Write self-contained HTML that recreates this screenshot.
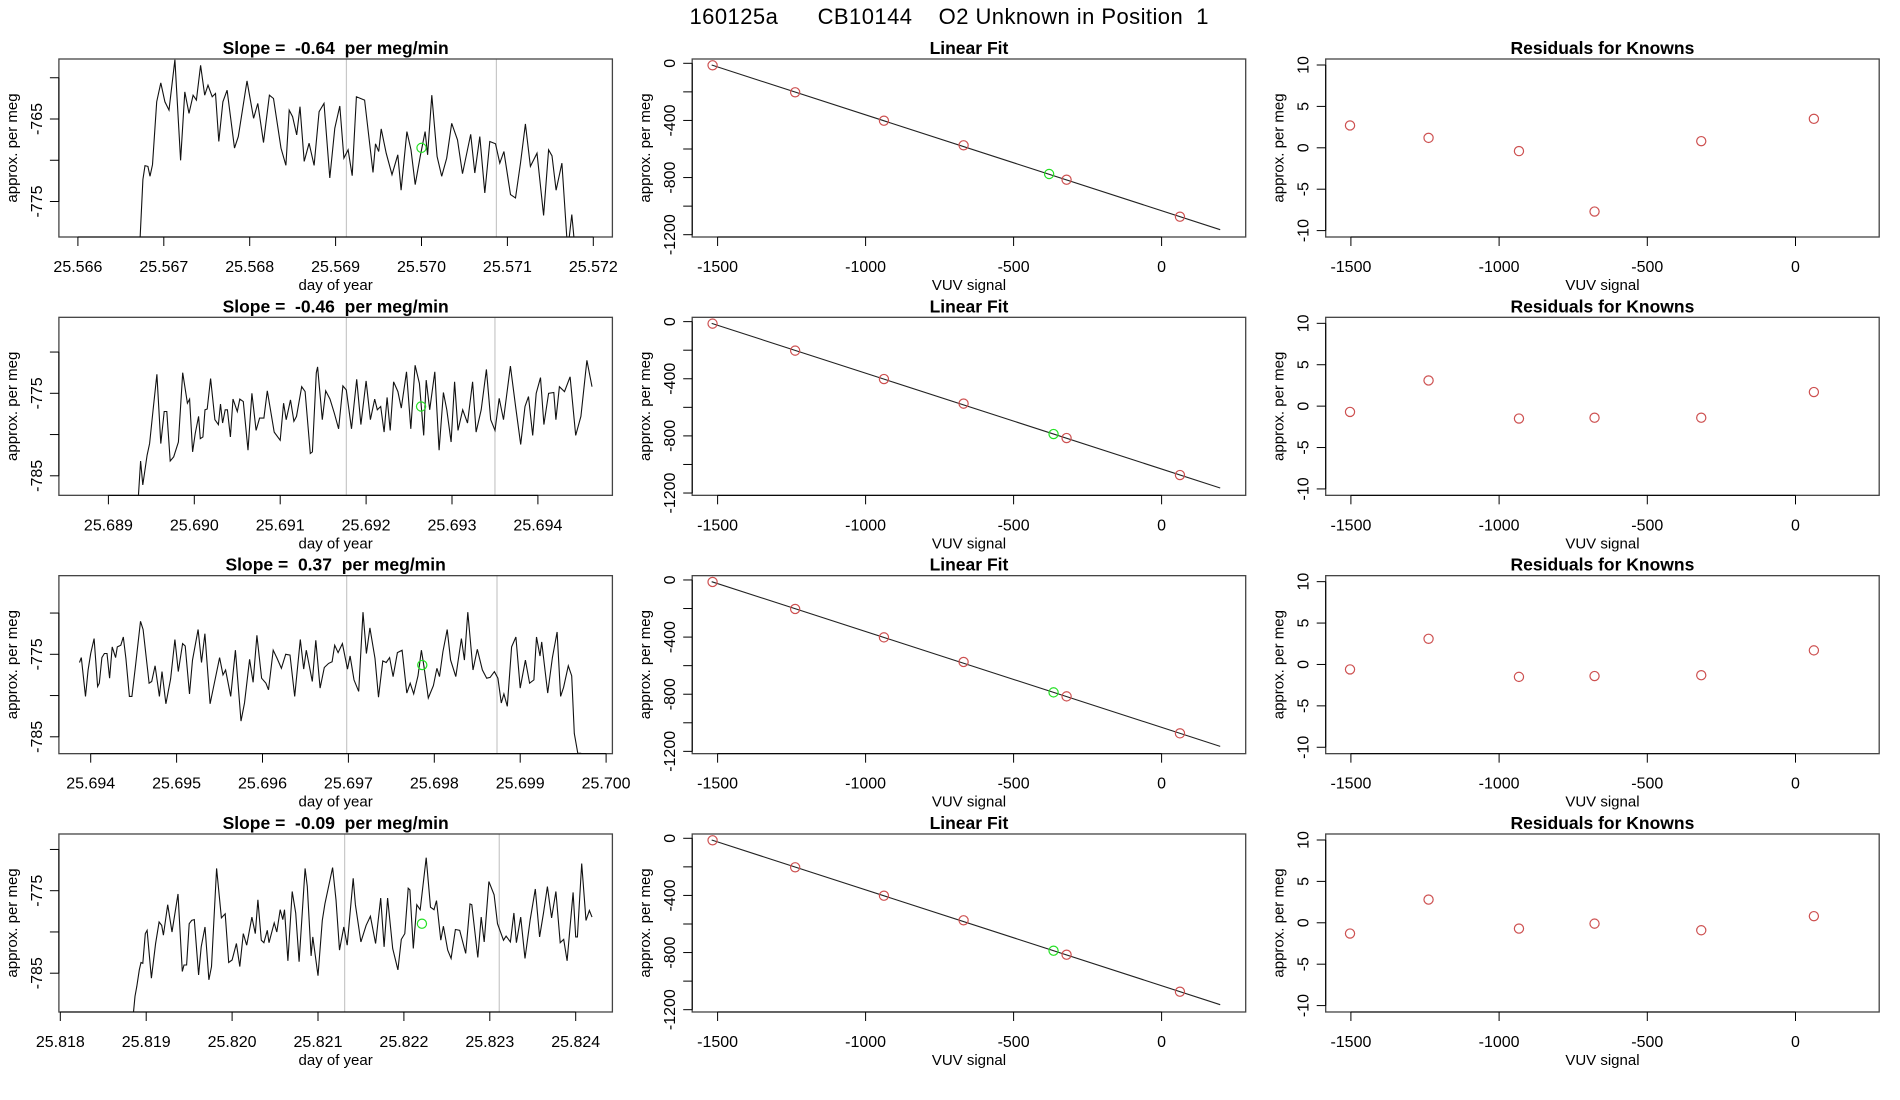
<!DOCTYPE html>
<html><head><meta charset="utf-8"><style>
html,body{margin:0;padding:0;background:#fff;}
svg{display:block;font-family:"Liberation Sans",Arial,sans-serif;}
svg text{white-space:pre;}
</style></head><body>
<svg id="chart" xmlns="http://www.w3.org/2000/svg" width="1900" height="1100" viewBox="0 0 1900 1100">
<rect x="0" y="0" width="1900" height="1100" fill="#fff"/>
<text x="949" y="24" font-size="22" text-anchor="middle" xml:space="preserve" textLength="519">160125a      CB10144    O2 Unknown in Position  1</text>
</svg>
<script>
// ---------- data ----------
const slopes = ["-0.64", "-0.46", "0.37", "-0.09"];
const dayBase = [25.566, 25.689, 25.694, 25.818];
const dayTickLabels = [
  ["25.566","25.567","25.568","25.569","25.570","25.571","25.572"],
  ["25.689","25.690","25.691","25.692","25.693","25.694"],
  ["25.694","25.695","25.696","25.697","25.698","25.699","25.700"],
  ["25.818","25.819","25.820","25.821","25.822","25.823","25.824"]
];
// offsets in thousandths of a day from dayBase
const tOff1 = [0.699,0.757,0.781,0.815,0.839,0.868,0.917,0.965,1.013,1.061,1.129,1.196,1.245,1.293,1.341,1.380,1.428,1.476,1.515,1.563,1.602,1.640,1.688,1.737,1.823,1.867,1.968,2.045,2.094,2.161,2.229,2.277,2.364,2.422,2.460,2.499,2.547,2.586,2.634,2.692,2.750,2.808,2.865,2.933,2.991,3.049,3.097,3.145,3.193,3.242,3.338,3.435,3.464,3.502,3.531,3.589,3.657,3.724,3.763,3.830,3.878,3.927,3.985,4.042,4.071,4.120,4.182,4.235,4.293,4.351,4.419,4.477,4.573,4.621,4.679,4.737,4.795,4.862,4.911,4.959,5.036,5.094,5.152,5.210,5.268,5.345,5.422,5.480,5.519,5.567,5.634,5.702,5.750,5.789];
const val1 = [-785,-772.35,-770.66,-770.74,-771.95,-770.54,-762.91,-760.62,-762.91,-763.92,-757.81,-770.02,-761.71,-764.32,-762.11,-762.71,-758.49,-762.11,-760.90,-762.31,-761.91,-767.73,-762.91,-761.51,-768.53,-767.13,-760.38,-764.92,-763.11,-767.85,-762.11,-762.51,-768.53,-770.62,-763.92,-764.72,-766.93,-763.51,-770.14,-767.93,-770.62,-764.12,-763.11,-772.15,-766.12,-763.43,-769.74,-768.73,-771.87,-762.31,-762.71,-771.47,-768.01,-768.94,-766.20,-769.14,-771.75,-769.34,-773.63,-766.53,-768.73,-772.95,-769.54,-766.53,-769.34,-762.11,-769.54,-771.95,-769.74,-765.52,-767.53,-771.63,-766.85,-771.55,-767.13,-773.96,-767.73,-768.01,-770.34,-768.94,-774.16,-774.56,-770.34,-765.60,-770.74,-769.14,-776.69,-768.73,-769.46,-773.63,-770.34,-781,-776.57,-781];
const tOff2 = [0.34,0.375,0.40,0.45,0.48,0.52,0.565,0.61,0.65,0.68,0.72,0.76,0.815,0.865,0.92,0.945,0.98,1.01,1.05,1.07,1.10,1.125,1.15,1.19,1.24,1.28,1.305,1.33,1.36,1.385,1.42,1.45,1.50,1.53,1.57,1.625,1.67,1.72,1.76,1.81,1.85,1.93,2.00,2.04,2.07,2.12,2.16,2.19,2.25,2.29,2.35,2.375,2.42,2.435,2.49,2.53,2.58,2.63,2.68,2.73,2.77,2.83,2.89,2.94,3.00,3.05,3.10,3.13,3.17,3.21,3.245,3.28,3.32,3.37,3.41,3.47,3.52,3.57,3.62,3.67,3.70,3.74,3.80,3.85,3.90,3.94,3.99,4.03,4.07,4.125,4.18,4.24,4.28,4.34,4.40,4.45,4.50,4.55,4.60,4.68,4.74,4.80,4.85,4.89,4.94,4.98,5.03,5.07,5.125,5.185,5.21,5.25,5.31,5.375,5.44,5.50,5.57,5.63];
const val2 = [-789,-783.2,-786.1,-782.5,-781.1,-777.0,-772.7,-781.1,-777.2,-777.2,-783.2,-782.7,-780.9,-772.5,-776.2,-775.7,-782.1,-779.9,-777.8,-780.5,-780.3,-777.0,-776.9,-773.2,-778.2,-778.8,-776.3,-778.6,-777.0,-777.0,-780.3,-775.7,-777.2,-775.7,-776.0,-781.9,-775.0,-779.5,-778.0,-778.0,-774.7,-779.7,-780.7,-776.2,-778.2,-775.8,-778.4,-777.8,-774.2,-774.8,-782.3,-782.1,-772.5,-771.8,-778.2,-774.7,-775.7,-777.4,-779.3,-774.1,-774.6,-779.3,-773.3,-778.8,-773.5,-778.2,-775.7,-777.0,-776.6,-779.7,-775.5,-779.5,-773.6,-774.8,-776.8,-772.4,-779.3,-771.6,-773.8,-780.1,-773.4,-777.0,-772.4,-781.9,-774.9,-777.0,-780.9,-773.6,-779.5,-777.0,-778.6,-773.6,-779.7,-777.0,-772.1,-778.2,-779.5,-775.6,-778.2,-771.7,-776.6,-781.2,-776.6,-775.4,-780.1,-775.0,-773.1,-778.8,-775.0,-774.9,-778.2,-774.2,-774.8,-773.0,-780.1,-777.8,-771.0,-774.2];
const tOff3 = [-0.13,-0.11,-0.06,-0.03,0.00,0.04,0.08,0.10,0.13,0.16,0.19,0.22,0.25,0.29,0.31,0.35,0.38,0.41,0.45,0.48,0.52,0.58,0.61,0.68,0.71,0.75,0.80,0.83,0.875,0.93,0.98,1.02,1.07,1.10,1.15,1.185,1.25,1.29,1.33,1.39,1.435,1.50,1.54,1.57,1.63,1.685,1.75,1.79,1.85,1.89,1.935,1.99,2.04,2.07,2.125,2.17,2.22,2.27,2.32,2.375,2.44,2.48,2.51,2.58,2.62,2.67,2.72,2.77,2.81,2.84,2.88,2.93,2.99,3.02,3.065,3.12,3.17,3.21,3.25,3.31,3.35,3.40,3.44,3.48,3.52,3.57,3.625,3.68,3.72,3.76,3.81,3.85,3.88,3.93,3.99,4.03,4.06,4.10,4.15,4.19,4.25,4.315,4.35,4.39,4.45,4.50,4.56,4.61,4.65,4.70,4.74,4.78,4.81,4.85,4.90,4.95,5.00,5.06,5.11,5.16,5.19,5.23,5.25,5.32,5.375,5.43,5.47,5.505,5.56,5.60,5.63,5.67,5.71];
const val3 = [-776.0,-775.4,-780.1,-776.9,-774.9,-773.1,-778.9,-778.5,-775.4,-774.9,-774.9,-777.9,-774.1,-775.4,-774.1,-773.9,-772.9,-775.5,-780.1,-780.1,-776.5,-771.0,-772.0,-778.5,-778.3,-776.4,-780.1,-777.1,-781.0,-778.0,-773.2,-777.1,-773.7,-774.0,-779.8,-775.7,-772.0,-776.0,-772.5,-781.0,-778.7,-775.4,-777.5,-776.9,-780.1,-774.5,-783.1,-780.9,-775.6,-778.4,-772.7,-777.9,-778.5,-779.3,-774.5,-775.5,-776.7,-775.0,-775.1,-780.1,-773.2,-776.8,-774.5,-778.3,-773.3,-779.1,-776.6,-776.1,-775.9,-773.9,-774.8,-773.7,-776.8,-775.2,-778.1,-779.5,-769.9,-774.9,-771.8,-775.5,-780.2,-775.8,-776.0,-775.4,-777.7,-774.8,-774.5,-779.7,-778.5,-779.8,-777.6,-774.5,-776.5,-780.3,-778.8,-776.7,-777.7,-774.7,-772.0,-775.7,-777.7,-773.1,-775.7,-769.9,-776.9,-774.4,-776.9,-777.9,-777.8,-777.1,-777.9,-780.9,-779.8,-781.3,-774.1,-772.9,-779.1,-775.7,-778.5,-778.1,-772.9,-775.2,-773.5,-779.7,-775.4,-772.3,-780.1,-779.0,-776.4,-777.6,-784.6,-787.0,-787.0];
const tOff4 = [0.84,0.87,0.89,0.92,0.94,0.96,0.99,1.01,1.06,1.11,1.15,1.18,1.20,1.25,1.30,1.37,1.42,1.44,1.47,1.50,1.53,1.56,1.61,1.64,1.685,1.73,1.76,1.82,1.875,1.92,1.96,2.00,2.05,2.09,2.13,2.17,2.23,2.27,2.30,2.34,2.37,2.41,2.43,2.49,2.52,2.56,2.59,2.61,2.65,2.70,2.74,2.78,2.85,2.875,2.92,2.94,3.00,3.05,3.08,3.17,3.21,3.25,3.30,3.34,3.41,3.435,3.50,3.56,3.61,3.67,3.73,3.77,3.81,3.87,3.93,3.97,4.01,4.05,4.07,4.11,4.15,4.19,4.26,4.31,4.35,4.38,4.43,4.46,4.51,4.55,4.60,4.65,4.72,4.77,4.79,4.86,4.90,4.935,4.99,5.05,5.09,5.16,5.19,5.24,5.28,5.31,5.36,5.41,5.47,5.53,5.58,5.625,5.67,5.72,5.77,5.82,5.86,5.90,5.97,6.00,6.02,6.07,6.12,6.16,6.19];
const val4 = [-791,-787.8,-786.6,-784.6,-783.7,-783.8,-780.2,-779.8,-785.6,-781.4,-778.8,-779.2,-780.4,-776.7,-780.0,-775.4,-784.8,-784.0,-784.0,-779.0,-778.6,-778.5,-785.2,-781.8,-779.4,-785.8,-784.2,-772.3,-778.3,-777.8,-783.7,-783.4,-781.4,-784.2,-780.2,-781.6,-778.2,-780.2,-776.1,-781.0,-781.3,-779.8,-781.3,-778.9,-780.0,-777.3,-778.5,-777.3,-783.5,-775.1,-777.7,-783.6,-772.3,-774.5,-782.9,-780.6,-785.3,-778.6,-776.6,-772.2,-776.1,-782.2,-779.4,-781.6,-773.5,-776.7,-781.2,-779.2,-778.1,-781.4,-775.9,-781.8,-775.9,-782.0,-784.6,-780.9,-780.2,-774.7,-774.9,-782.0,-776.7,-777.3,-771.0,-777.0,-777.3,-776.2,-781.0,-779.3,-782.2,-783.2,-779.7,-779.8,-782.6,-776.6,-776.7,-783.1,-778.2,-781.2,-773.9,-775.5,-779.0,-781.0,-780.5,-781.2,-777.7,-781.3,-778.2,-783.2,-778.5,-774.8,-780.6,-777.7,-774.5,-778.3,-775.1,-781.3,-780.9,-783.5,-775.2,-780.6,-780.6,-771.7,-778.6,-777.4,-778.2];
const tOffs = [tOff1, tOff2, tOff3, tOff4];
const vals = [val1, val2, val3, val4];
const greenDay = [25.570, 25.69264, 25.69786, 25.82221];
const greenVal = [-768.5, -776.6, -776.3, -779.0];
const vLine1 = [25.569126, 25.69177, 25.69698, 25.82131];
const vLine2 = [25.570872, 25.69350, 25.69873, 25.82311];
const yTickVals = [[-760,-765,-770,-775],[-770,-775,-780,-785],[-770,-775,-780,-785],[-770,-775,-780,-785]];
const yTickLabels = [["","-765","","-775"],["","-775","","-785"],["","-775","","-785"],["","-775","","-785"]];
const yRef = [-765, -775, -775, -775];

// linear fit data
const knownX = [-1517, -1238, -938, -669, -321, 62];
const knownY = [-14, -203, -402, -574, -815, -1074];
const unkX = [-380, -365, -365, -365];
const unkY = [-775, -787, -787, -787];
const fitSlope = -0.671;
const fitIntercept = -1032;
const fitRange = [-1520, 198];
const fitXTicks = [-1500, -1000, -500, 0];
const fitYTicks = [0, -200, -400, -600, -800, -1000, -1200];
const fitYLabels = ["0", "", "-400", "", "-800", "", "-1200"];

// residuals
const residX = [-1503, -1238, -933, -678, -318, 62];
const resid = [
  [2.7, 1.2, -0.4, -7.7, 0.8, 3.5],
  [-0.7, 3.1, -1.5, -1.4, -1.4, 1.7],
  [-0.6, 3.1, -1.5, -1.4, -1.3, 1.7],
  [-1.3, 2.8, -0.7, -0.1, -0.9, 0.8]
];
const residYTicks = [10, 5, 0, -5, -10];

// ---------- layout ----------
const NS = "http://www.w3.org/2000/svg";
const svg = document.getElementById("chart");
const colLeft = [58.9, 692.2, 1325.7];
const boxW = 553.5;
const rowStep = 258.33;
const boxTop0 = 59, boxBot0 = 237;

function mk(tag, attrs, parent, text) {
  const e = document.createElementNS(NS, tag);
  for (const k in attrs) e.setAttribute(k, attrs[k]);
  if (text !== undefined) e.textContent = text;
  (parent || svg).appendChild(e);
  return e;
}

function frame(g, L, T, B, title, xlab) {
  const r = mk("rect", {x: L, y: T, width: boxW, height: B - T, fill: "none", stroke: "#444", "stroke-width": 1.3}, g);
  
  
  const t = mk("text", {x: L + boxW / 2, y: T - 5, "font-size": 17.5, "font-weight": "bold", "text-anchor": "middle", style: "white-space:pre"}, g, title);
  
  
  const xl = mk("text", {x: L + boxW / 2, y: B + 53, "font-size": 15, "text-anchor": "middle"}, g, xlab);
  
  
  const yl = mk("text", {x: 0, y: 0, "font-size": 15, "text-anchor": "middle", transform: `translate(${L - 42},${(T + B) / 2}) rotate(-90)`}, g, "approx. per meg");
  
  
}

function xAxis(g, B, pxs, labels) {
  const ax = mk("g", {}, g);
  
  
  mk("line", {x1: pxs[0], x2: pxs[pxs.length - 1], y1: B, y2: B, stroke: "#000", "stroke-width": 1}, ax);
  pxs.forEach((p, i) => {
    mk("line", {x1: p, x2: p, y1: B, y2: B + 9, stroke: "#000", "stroke-width": 1}, ax);
    const t = mk("text", {x: p, y: B + 35, "font-size": 16, "text-anchor": "middle"}, ax, labels[i]);
    
    
  });
}

function yAxis(g, L, pys, labels) {
  const ax = mk("g", {}, g);
  
  
  const ymin = Math.min(...pys), ymax = Math.max(...pys);
  mk("line", {x1: L, x2: L, y1: ymin, y2: ymax, stroke: "#000", "stroke-width": 1}, ax);
  pys.forEach((p, i) => {
    mk("line", {x1: L, x2: L - 9, y1: p, y2: p, stroke: "#000", "stroke-width": 1}, ax);
    if (labels[i] !== "") {
      const t = mk("text", {x: 0, y: 0, "font-size": 16, "text-anchor": "middle", transform: `translate(${L - 17},${p}) rotate(-90)`}, ax, labels[i]);
      
      
    }
  });
}

function circle(g, x, y, color, name) {
  const c = mk("circle", {cx: x, cy: y, r: 4.6, fill: "none", stroke: color, "stroke-width": 1.2}, g);
  
  
}

const defs = mk("defs", {});
for (let r = 0; r < 4; r++) {
  const T = boxTop0 + r * rowStep, B = boxBot0 + r * rowStep;
  const cp = mk("clipPath", {id: "clip" + r}, defs);
  mk("rect", {x: colLeft[0], y: T, width: boxW, height: B - T}, cp);

  // ---- time series panel ----
  const g1 = mk("g", {});
  
  
  const L = colLeft[0];
  const tick0px = [77.9, 108.4, 90.7, 60.3][r];
  const xS = d => tick0px + (d - dayBase[r]) / 0.001 * 85.9;
  const yRefPx = [119, 393.3, 654.3, 890.7][r];
  const yS = v => yRefPx + (yRef[r] - v) * 8.25;
  [vLine1[r], vLine2[r]].forEach(d => {
    const l = mk("line", {x1: xS(d), x2: xS(d), y1: T, y2: B, stroke: "#c8c8c8", "stroke-width": 1.2}, g1);
    
    
  });
  const pts = tOffs[r].map((o, i) => xS(dayBase[r] + o * 0.001).toFixed(1) + "," + yS(vals[r][i]).toFixed(1)).join(" ");
  const pl = mk("polyline", {points: pts, fill: "none", stroke: "#111", "stroke-width": 1.1, "clip-path": `url(#clip${r})`}, g1);
  
  
  circle(g1, xS(greenDay[r]), yS(greenVal[r]), "#22e022", "unknown-mean-point");
  frame(g1, L, T, B, "Slope =  " + slopes[r] + "  per meg/min", "day of year");
  xAxis(g1, B, dayTickLabels[r].map(s => xS(parseFloat(s))), dayTickLabels[r]);
  yAxis(g1, L, yTickVals[r].map(yS), yTickLabels[r]);

  // ---- linear fit panel ----
  const g2 = mk("g", {});
  
  
  const L2 = colLeft[1];
  const fx = x => L2 + 25.4 + (x + 1500) * 0.296;
  const fy = v => T + 4.3 + (0 - v) * 0.14283;
  const fl = mk("line", {x1: fx(fitRange[0]), y1: fy(fitIntercept + fitSlope * fitRange[0]), x2: fx(fitRange[1]), y2: fy(fitIntercept + fitSlope * fitRange[1]), stroke: "#222", "stroke-width": 1.1}, g2);
  
  
  knownX.forEach((x, i) => circle(g2, fx(x), fy(knownY[i]), "#cd5050", "known-point"));
  circle(g2, fx(unkX[r]), fy(unkY[r]), "#22e022", "unknown-point");
  frame(g2, L2, T, B, "Linear Fit", "VUV signal");
  xAxis(g2, B, fitXTicks.map(fx), fitXTicks.map(String));
  yAxis(g2, L2, fitYTicks.map(fy), fitYLabels);

  // ---- residual panel ----
  const g3 = mk("g", {});
  
  
  const L3 = colLeft[2];
  const rx = x => L3 + 25.2 + (x + 1500) * 0.2964;
  const ry = v => T + 6 + (10 - v) * 8.28;
  residX.forEach((x, i) => circle(g3, rx(x), ry(resid[r][i]), "#cd5050", "residual-point"));
  frame(g3, L3, T, B, "Residuals for Knowns", "VUV signal");
  xAxis(g3, B, fitXTicks.map(rx), fitXTicks.map(String));
  yAxis(g3, L3, residYTicks.map(ry), residYTicks.map(String));
}
</script>
</body></html>
